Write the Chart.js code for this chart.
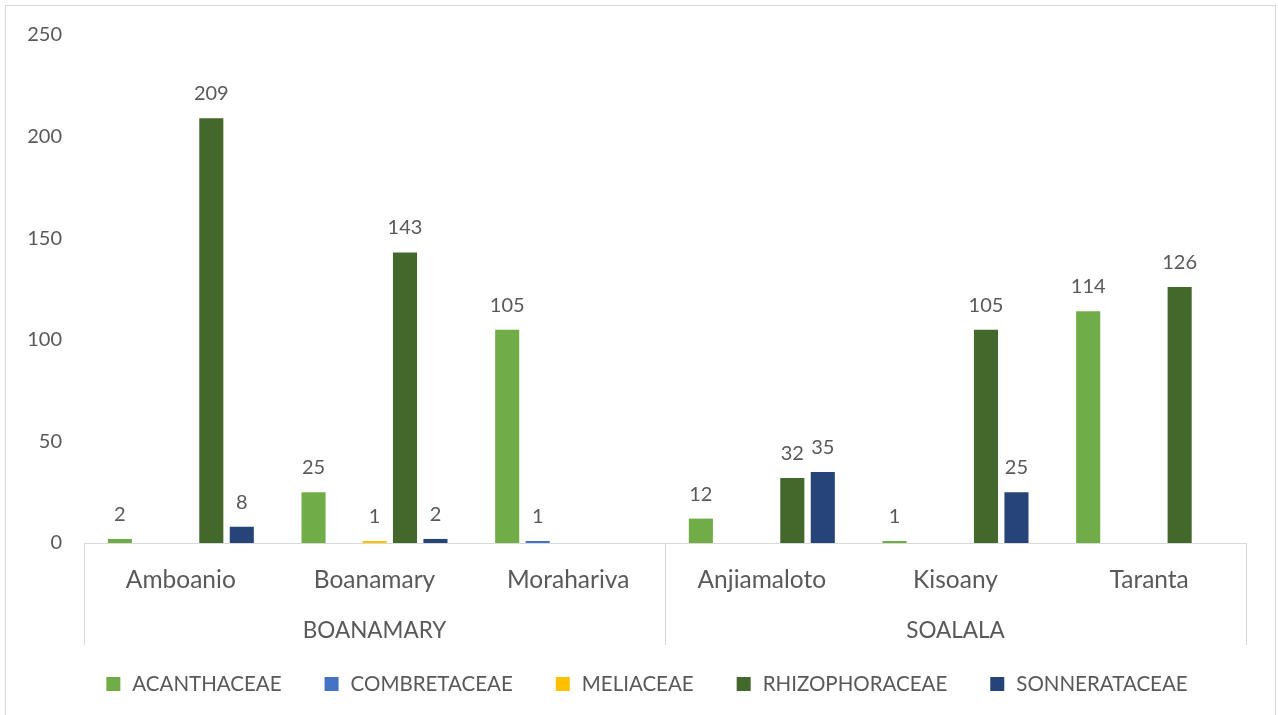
<!DOCTYPE html>
<html>
<head>
<meta charset="utf-8">
<script src="https://cdn.jsdelivr.net/npm/chart.js@4/dist/chart.umd.min.js"></script>
<style>
  html, body { margin: 0; padding: 0; background: #fff; }
  #wrap { position: relative; width: 1278px; height: 715px; overflow: hidden; }
  #frame { position: absolute; left: 5px; top: 5px; width: 1271px; height: 760px; border: 1px solid #d9d9d9; box-sizing: border-box; pointer-events: none; }
  canvas { position: absolute; left: 0; top: 0; }
</style>
</head>
<body>
<div id="wrap">
  <canvas id="c" width="1278" height="715"></canvas>
  <div id="frame"></div>
</div>
<script>
const categories = ['Amboanio', 'Boanamary', 'Morahariva', 'Anjiamaloto', 'Kisoany', 'Taranta'];
const groups = [
  { label: 'BOANAMARY', from: 0, to: 2 },
  { label: 'SOALALA', from: 3, to: 5 }
];
const seriesNames = ['ACANTHACEAE', 'COMBRETACEAE', 'MELIACEAE', 'RHIZOPHORACEAE', 'SONNERATACEAE'];
const acanthaceae    = [2, 25, 105, 12, 1, 114];
const combretaceae   = [null, null, 1, null, null, null];
const meliaceae      = [null, 1, null, null, null, null];
const rhizophoraceae = [209, 143, null, 32, 105, 126];
const sonnerataceae  = [8, 2, null, 35, 25, null];
const yTicks = [0, 50, 100, 150, 200, 250];
const colors = ['#70AD47', '#4472C4', '#FFC000', '#43682B', '#264478'];

const seriesValues = [acanthaceae, combretaceae, meliaceae, rhizophoraceae, sonnerataceae];
const FONT = 'Lato';
const TXT = '#595959';
const LINE = '#d9d9d9';

const dataLabels = {
  id: 'dataLabels',
  afterDatasetsDraw(chart) {
    const ctx = chart.ctx;
    ctx.save();
    ctx.font = '20px ' + FONT;
    ctx.fillStyle = TXT;
    ctx.textAlign = 'center';
    ctx.textBaseline = 'alphabetic';
    chart.data.datasets.forEach((ds, i) => {
      const meta = chart.getDatasetMeta(i);
      meta.data.forEach((el, j) => {
        const v = ds.data[j];
        if (v === null || v === undefined) return;
        ctx.fillText(String(v), el.x, el.y - 18);
      });
    });
    ctx.restore();
  }
};

const groupAxis = {
  id: 'groupAxis',
  afterDraw(chart) {
    const ctx = chart.ctx;
    const xs = chart.scales.x;
    const n = categories.length;
    const step = (xs.right - xs.left) / n;
    const top = chart.chartArea.bottom;
    ctx.save();
    ctx.strokeStyle = LINE;
    ctx.lineWidth = 1;
    const edges = new Set();
    groups.forEach(g => {
      edges.add(xs.getPixelForValue(g.from) - step / 2);
      edges.add(xs.getPixelForValue(g.to) + step / 2);
    });
    edges.forEach(x => {
      const px = Math.round(x) + 0.5;
      ctx.beginPath();
      ctx.moveTo(px, top);
      ctx.lineTo(px, top + 102);
      ctx.stroke();
    });
    ctx.font = '22.5px ' + FONT;
    ctx.fillStyle = TXT;
    ctx.textAlign = 'center';
    ctx.textBaseline = 'middle';
    groups.forEach(g => {
      const cx = (xs.getPixelForValue(g.from) + xs.getPixelForValue(g.to)) / 2;
      ctx.fillText(g.label, cx, top + 88);
    });
    ctx.restore();
  }
};

const customLegend = {
  id: 'customLegend',
  afterDraw(chart) {
    const ctx = chart.ctx;
    ctx.save();
    ctx.font = '20.5px ' + FONT;
    ctx.textBaseline = 'middle';
    ctx.textAlign = 'left';
    const box = 14, gapText = 12, gapItem = 43, cy = 684, center = 647;
    const items = chart.data.datasets.map(ds => ({ label: ds.label, color: ds.backgroundColor, w: ctx.measureText(ds.label).width }));
    const total = items.reduce((s, it) => s + box + gapText + it.w, 0) + gapItem * (items.length - 1);
    let x = center - total / 2;
    items.forEach(it => {
      ctx.fillStyle = it.color;
      ctx.fillRect(x, cy - box / 2, box, box);
      ctx.fillStyle = TXT;
      ctx.fillText(it.label, x + box + gapText, cy);
      x += box + gapText + it.w + gapItem;
    });
    ctx.restore();
  }
};

new Chart(document.getElementById('c'), {
  type: 'bar',
  data: {
    labels: categories,
    datasets: seriesNames.map((name, i) => ({
      label: name,
      data: seriesValues[i],
      backgroundColor: colors[i],
      borderWidth: 0,
      categoryPercentage: 0.787,
      barPercentage: 0.79
    }))
  },
  options: {
    responsive: false,
    animation: false,
    events: [],
    layout: { padding: { left: 0, right: 32, top: 35, bottom: 0 } },
    plugins: {
      legend: { display: false },
      tooltip: { enabled: false },
      title: { display: false }
    },
    scales: {
      x: {
        grid: { display: false, drawTicks: false },
        border: { display: true, color: LINE, width: 1 },
        ticks: { font: { family: FONT, size: 24.5 }, color: TXT, padding: 22, maxRotation: 0 },
        afterFit(scale) { scale.height = 172; }
      },
      y: {
        min: 0, max: 250,
        afterBuildTicks(scale) { scale.ticks = yTicks.map(v => ({ value: v })); },
        grid: { display: false, drawTicks: false },
        border: { display: false },
        ticks: { font: { family: FONT, size: 20 }, color: TXT, padding: 22 },
        afterFit(scale) { scale.width = 84; }
      }
    }
  },
  plugins: [dataLabels, groupAxis, customLegend]
});
</script>
</body>
</html>
